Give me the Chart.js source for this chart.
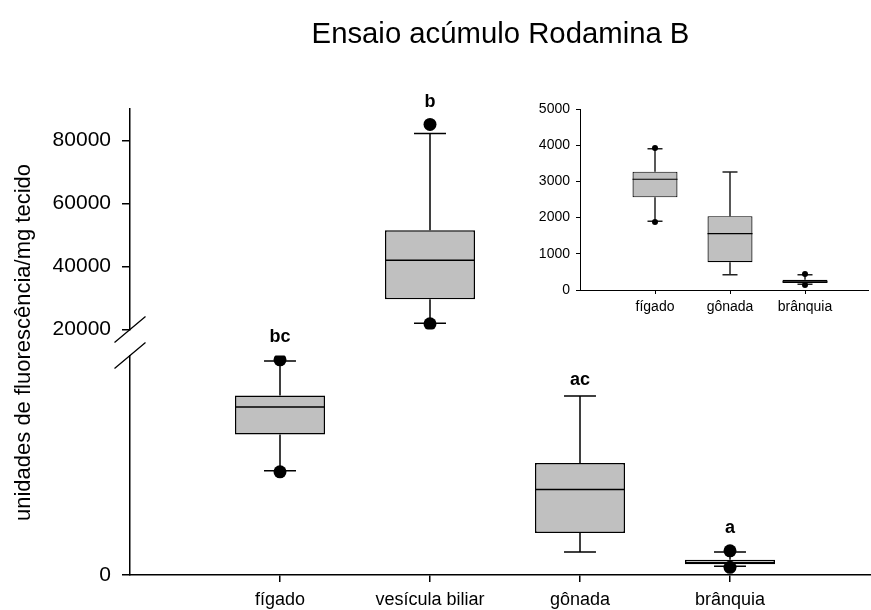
<!DOCTYPE html>
<html>
<head>
<meta charset="utf-8">
<script src="https://cdn.jsdelivr.net/npm/chart.js@4/dist/chart.umd.min.js"></script>
<style>
  html, body { margin: 0; padding: 0; background: #fff; overflow: hidden; }
  #wrap { position: relative; width: 871px; height: 610px; }
  #main { position: absolute; left: 0; top: 0; }
  #inset { position: absolute; left: 500px; top: 90px; }
</style>
</head>
<body>
<div id="wrap">
  <canvas id="main" width="871" height="610"></canvas>
  <canvas id="inset" width="371" height="230"></canvas>
</div>
<script>
// Box-plot summaries per tissue (fluorescence units / mg tissue)
const categories   = ['fígado', 'vesícula biliar', 'gônada', 'brânquia'];
const whiskerLow   = [1900, 22000, 420, 160];
const quartile1    = [2560, 29600, 765, 195];
const medians      = [3060, 42000, 1560, 225];
const quartile3    = [3270, 51500, 2040, 280];
const whiskerHigh  = [3900, 82200, 3260, 420];
const outliers     = [[1880, 3920], [21800, 85100], [], [140, 440]];
const groupLetters = ['bc', 'b', 'ac', 'a'];

// Broken value axis: lower and upper parts
const lowRange   = [0, 4000];
const highRange  = [20000, 90000];
const lowTicks   = [0];
const highTicks  = [20000, 40000, 60000, 80000];
// Inset axis
const insetRange = [0, 5000];
const insetTicks = [0, 1000, 2000, 3000, 4000, 5000];

const FONT = "'Liberation Sans', Arial, Helvetica, sans-serif";
const BOX_FILL = '#c0c0c0';
const INK = '#000';

const allIdx = categories.map((_, i) => i);
const isHigh = i => quartile1[i] > lowRange[1];
const highIdx = allIdx.filter(isHigh);
const lowIdx = allIdx.filter(i => !isHigh(i));

function summary(i, pos, axis) {
  const top = Math.max(whiskerHigh[i], ...outliers[i]);
  return {
    pos, axis,
    low: whiskerLow[i], q1: quartile1[i], med: medians[i], q3: quartile3[i], high: whiskerHigh[i],
    top, topIsPoint: top > whiskerHigh[i], letter: groupLetters[i]
  };
}

// Whiskers, caps, median lines and group letters, drawn through the chart scales
function boxPlotMarks(items, cfg) {
  return {
    id: 'boxPlotMarks',
    beforeDatasetsDraw(chart) {
      const ctx = chart.ctx, xs = chart.scales.x;
      const step = xs.getPixelForValue(1) - xs.getPixelForValue(0);
      const capHalf = step * cfg.capFraction / 2;
      ctx.save();
      ctx.strokeStyle = cfg.whiskerColor;
      ctx.lineWidth = cfg.whiskerWidth;
      items.forEach(it => {
        const ys = chart.scales[it.axis];
        const x = xs.getPixelForValue(it.pos);
        const lo = ys.getPixelForValue(it.low), hi = ys.getPixelForValue(it.high);
        const b1 = ys.getPixelForValue(it.q1), b3 = ys.getPixelForValue(it.q3);
        ctx.beginPath();
        ctx.moveTo(x, b3); ctx.lineTo(x, hi);
        ctx.moveTo(x, b1); ctx.lineTo(x, lo);
        ctx.moveTo(x - capHalf, hi); ctx.lineTo(x + capHalf, hi);
        ctx.moveTo(x - capHalf, lo); ctx.lineTo(x + capHalf, lo);
        ctx.stroke();
      });
      ctx.restore();
    },
    afterDatasetsDraw(chart) {
      const ctx = chart.ctx, xs = chart.scales.x;
      const step = xs.getPixelForValue(1) - xs.getPixelForValue(0);
      const half = step * cfg.boxFraction / 2;
      ctx.save();
      ctx.strokeStyle = INK;
      ctx.lineWidth = cfg.medianWidth;
      items.forEach(it => {
        const ys = chart.scales[it.axis];
        const x = xs.getPixelForValue(it.pos);
        const m = ys.getPixelForValue(it.med);
        ctx.beginPath();
        ctx.moveTo(x - half, m); ctx.lineTo(x + half, m);
        ctx.stroke();
      });
      if (cfg.letters) {
        ctx.fillStyle = INK;
        ctx.font = 'bold 18px ' + FONT;
        ctx.textAlign = 'center';
        ctx.textBaseline = 'alphabetic';
        items.forEach(it => {
          const ys = chart.scales[it.axis];
          const x = xs.getPixelForValue(it.pos);
          const y = ys.getPixelForValue(it.top) - (it.topIsPoint ? cfg.pointRadius : 0) - 11;
          ctx.fillText(it.letter, x, y);
        });
      }
      ctx.restore();
    }
  };
}

// Two short slashes marking the break of the value axis
const axisBreak = {
  id: 'axisBreak',
  afterDraw(chart) {
    const ctx = chart.ctx;
    const x = chart.chartArea.left;
    const yA = chart.scales.yHigh.bottom;
    const yB = chart.scales.yLow.top;
    ctx.save();
    ctx.strokeStyle = INK;
    ctx.lineWidth = 1.3;
    ctx.beginPath();
    ctx.moveTo(x - 15.5, yA + 13); ctx.lineTo(x + 15.5, yA - 13);
    ctx.moveTo(x - 15.5, yB + 13); ctx.lineTo(x + 15.5, yB - 13);
    ctx.stroke();
    ctx.restore();
  }
};

function outlierPoints(idxs, posOf) {
  return idxs.flatMap(i => outliers[i].map(v => ({ x: posOf(i), y: v })));
}

const yCommon = {
  type: 'linear',
  position: 'left',
  stack: 'y',
  afterFit: s => { s.width = 130; },
  grid: { display: true, drawOnChartArea: false, drawTicks: true, tickLength: 8, color: INK, lineWidth: 1.5 },
  border: { display: true, color: INK, width: 1.5 },
  ticks: { color: INK, padding: 11, font: { family: FONT, size: 21 }, callback: v => String(v) }
};

const mainItems = allIdx.map(i => summary(i, i + 1, isHigh(i) ? 'yHigh' : 'yLow'));

new Chart(document.getElementById('main'), {
  type: 'bar',
  data: {
    datasets: [
      { type: 'scatter', yAxisID: 'yLow', order: 0, data: outlierPoints(lowIdx, i => i + 1),
        pointRadius: 6.5, pointBackgroundColor: INK, pointBorderWidth: 0 },
      { type: 'scatter', yAxisID: 'yHigh', order: 0, data: outlierPoints(highIdx, i => i + 1),
        pointRadius: 6.5, pointBackgroundColor: INK, pointBorderWidth: 0 },
      { type: 'bar', yAxisID: 'yLow', order: 1, grouped: false,
        data: lowIdx.map(i => ({ x: i + 1, y: [quartile1[i], quartile3[i]] })),
        backgroundColor: BOX_FILL, borderColor: INK, borderWidth: 1.5, borderSkipped: false,
        categoryPercentage: 0.6, barPercentage: 1 },
      { type: 'bar', yAxisID: 'yHigh', order: 1, grouped: false,
        data: highIdx.map(i => ({ x: i + 1, y: [quartile1[i], quartile3[i]] })),
        backgroundColor: BOX_FILL, borderColor: INK, borderWidth: 1.5, borderSkipped: false,
        categoryPercentage: 0.6, barPercentage: 1 }
    ]
  },
  options: {
    responsive: false,
    animation: false,
    devicePixelRatio: 1,
    events: [],
    layout: { padding: 0, autoPadding: false },
    plugins: {
      legend: { display: false },
      tooltip: { enabled: false },
      title: {
        display: true,
        text: 'Ensaio acúmulo Rodamina B',
        color: INK,
        fullSize: false,
        font: { family: FONT, size: 29.3, weight: 'normal', lineHeight: 1.2 },
        padding: { top: 17, bottom: 56.8 }
      }
    },
    scales: {
      x: {
        type: 'linear',
        position: 'bottom',
        min: 0,
        max: 4.94,
        offset: false,
        afterBuildTicks: s => { s.ticks = categories.map((_, i) => ({ value: i + 1 })); },
        afterFit: s => { s.height = 35; },
        grid: { display: true, offset: false, drawOnChartArea: false, drawTicks: true, tickLength: 7, color: INK, lineWidth: 1.5 },
        border: { display: true, color: INK, width: 1.5 },
        ticks: { autoSkip: false, maxRotation: 0, padding: 7, color: INK,
                 font: { family: FONT, size: 18 }, callback: v => categories[v - 1] ?? '' }
      },
      yLow: Object.assign({}, yCommon, {
        weight: 1, stackWeight: 219.5,
        min: lowRange[0], max: lowRange[1],
        afterBuildTicks: s => { s.ticks = lowTicks.map(v => ({ value: v })); }
      }),
      yGap: {
        type: 'linear', position: 'left', stack: 'y', weight: 2, stackWeight: 26,
        min: 0, max: 1,
        afterFit: s => { s.width = 130; },
        grid: { display: false },
        border: { display: false },
        ticks: { display: false },
        title: {
          display: true,
          text: 'unidades de fluorescência/mg tecido',
          color: INK,
          font: { family: FONT, size: 22, lineHeight: 1.2 },
          padding: { top: 11, bottom: 0 }
        }
      },
      yHigh: Object.assign({}, yCommon, {
        weight: 3, stackWeight: 220.5,
        min: highRange[0], max: highRange[1],
        afterBuildTicks: s => { s.ticks = highTicks.map(v => ({ value: v })); }
      })
    }
  },
  plugins: [
    boxPlotMarks(mainItems, { capFraction: 0.213, boxFraction: 0.6, whiskerWidth: 1.5, whiskerColor: INK,
                              medianWidth: 1.5, letters: true, pointRadius: 6.5 }),
    axisBreak
  ]
});

// Inset: the three tissues of the lower range on their own scale
const insetItems = lowIdx.map((i, k) => summary(i, k + 1, 'y'));

new Chart(document.getElementById('inset'), {
  type: 'bar',
  data: {
    datasets: [
      { type: 'scatter', order: 0, data: lowIdx.flatMap((i, k) => outliers[i].map(v => ({ x: k + 1, y: v }))),
        pointRadius: 3, pointBackgroundColor: INK, pointBorderWidth: 0 },
      { type: 'bar', order: 1, grouped: false,
        data: lowIdx.map((i, k) => ({ x: k + 1, y: [quartile1[i], quartile3[i]] })),
        backgroundColor: BOX_FILL, borderColor: INK, borderWidth: 1.2, borderSkipped: false,
        categoryPercentage: 0.6, barPercentage: 1 }
    ]
  },
  options: {
    responsive: false,
    animation: false,
    devicePixelRatio: 1,
    events: [],
    layout: { padding: { top: 19, right: 3, left: 0, bottom: 0 }, autoPadding: false },
    plugins: { legend: { display: false }, tooltip: { enabled: false }, title: { display: false } },
    scales: {
      x: {
        type: 'linear', position: 'bottom', min: 0, max: 3.84, offset: false,
        afterBuildTicks: s => { s.ticks = lowIdx.map((_, k) => ({ value: k + 1 })); },
        afterFit: s => { s.height = 30; },
        grid: { display: true, offset: false, drawOnChartArea: false, tickLength: 4, color: INK, lineWidth: 1 },
        border: { display: true, color: INK, width: 1 },
        ticks: { autoSkip: false, maxRotation: 0, padding: 5, color: INK,
                 font: { family: FONT, size: 14 }, callback: v => categories[lowIdx[v - 1]] ?? '' }
      },
      y: {
        type: 'linear', position: 'left', min: insetRange[0], max: insetRange[1],
        afterBuildTicks: s => { s.ticks = insetTicks.map(v => ({ value: v })); },
        afterFit: s => { s.width = 80; },
        grid: { display: true, drawOnChartArea: false, tickLength: 4, color: INK, lineWidth: 1 },
        border: { display: true, color: INK, width: 1 },
        ticks: { color: INK, padding: 6, font: { family: FONT, size: 14 }, callback: v => String(v) }
      }
    }
  },
  plugins: [
    boxPlotMarks(insetItems, { capFraction: 0.2, boxFraction: 0.6, whiskerWidth: 1.5, whiskerColor: '#222',
                               medianWidth: 1.2, letters: false, pointRadius: 3 })
  ]
});
</script>
</body>
</html>
